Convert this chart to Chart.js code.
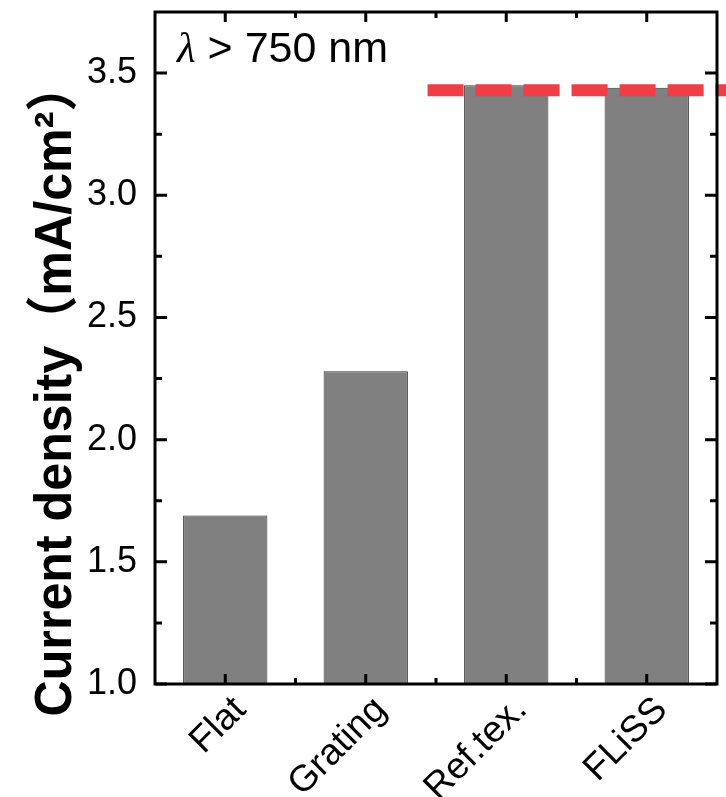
<!DOCTYPE html>
<html>
<head>
<meta charset="utf-8">
<script src="https://cdn.jsdelivr.net/npm/chart.js@4"></script>
<style>
  html, body { margin: 0; padding: 0; background: #fff; }
  #wrap { width: 726px; height: 797px; }
</style>
</head>
<body>
<div id="wrap"><canvas id="myChart"></canvas></div>
<script>
var labels = ['Flat', 'Grating', 'Ref.tex.', 'FLiSS'];
var currentDensity = [1.69, 2.28, 3.45, 3.44];
var yTicks = [1.0, 1.5, 2.0, 2.5, 3.0, 3.5];
var yMinorTicks = [1.25, 1.75, 2.25, 2.75, 3.25];
var refLevel = 3.43;   // dashed reference level
var refFrom = 1.44;    // category position where the dashed line starts

var SANS = "'Liberation Sans', Arial, sans-serif";

// red dashed level, frame, inward ticks, rotated labels and titles
var decorations = {
  id: 'decorations',
  afterDatasetsDraw: function (chart) {
    var ctx = chart.ctx, x = chart.scales.x, y = chart.scales.y;
    ctx.save();
    ctx.strokeStyle = '#EE3F48';
    ctx.lineWidth = 12;
    ctx.setLineDash([36, 12]);
    ctx.beginPath();
    ctx.moveTo(x.getPixelForValue(refFrom), y.getPixelForValue(refLevel));
    ctx.lineTo(chart.width, y.getPixelForValue(refLevel));
    ctx.stroke();
    ctx.restore();
  },
  afterDraw: function (chart) {
    var ctx = chart.ctx, a = chart.chartArea, x = chart.scales.x, y = chart.scales.y;
    ctx.save();
    ctx.strokeStyle = '#000';
    ctx.lineWidth = 3;
    ctx.strokeRect(a.left, a.top, a.right - a.left, a.bottom - a.top);

    ctx.beginPath();
    function yTick(v, len) {
      var py = y.getPixelForValue(v);
      ctx.moveTo(a.left, py); ctx.lineTo(a.left + len, py);
      ctx.moveTo(a.right, py); ctx.lineTo(a.right - len, py);
    }
    function xTick(v, len) {
      var px = x.getPixelForValue(v);
      ctx.moveTo(px, a.bottom); ctx.lineTo(px, a.bottom - len);
      ctx.moveTo(px, a.top); ctx.lineTo(px, a.top + len);
    }
    yTicks.forEach(function (v) { yTick(v, 12); });
    yMinorTicks.forEach(function (v) { yTick(v, 7); });
    labels.forEach(function (l, i) {
      xTick(i, 10);
      if (i > 0) xTick(i - 0.5, 6);
    });
    ctx.stroke();

    // category labels, rotated 45 degrees
    ctx.fillStyle = '#000';
    ctx.font = '37px ' + SANS;
    ctx.textAlign = 'right';
    ctx.textBaseline = 'middle';
    labels.forEach(function (l, i) {
      ctx.save();
      ctx.translate(x.getPixelForValue(i) + 15, a.bottom + 20);
      ctx.rotate(-Math.PI / 4);
      ctx.fillText(l, 0, 0);
      ctx.restore();
    });

    // wavelength note
    ctx.textAlign = 'left';
    ctx.textBaseline = 'alphabetic';
    ctx.font = "italic 43px 'Liberation Serif', serif";
    ctx.fillText('\u03BB', a.left + 22, 62);
    var lw = ctx.measureText('\u03BB').width;
    ctx.font = '43px ' + SANS;
    ctx.fillText(' > 750 nm', a.left + 22 + lw, 62);

    // y axis title, narrow and tall
    var title = 'Current density\uFF08mA/cm\u00B2\uFF09';
    ctx.font = "bold 52px 'Liberation Sans', 'Noto Sans CJK SC', sans-serif";
    var tw = ctx.measureText(title).width;
    ctx.translate(71, 389);
    ctx.rotate(-Math.PI / 2);
    ctx.scale(655 / tw, 1);
    ctx.textAlign = 'center';
    ctx.fillText(title, 0, 0);
    ctx.restore();
  }
};

var data = {
  labels: labels,
  datasets: [{
    label: 'Current density',
    data: currentDensity,
    backgroundColor: '#808080',
    borderColor: '#333333',
    borderWidth: 1,
    barPercentage: 0.6,
    categoryPercentage: 1.0
  }]
};

var config = {
  type: 'bar',
  data: data,
  options: {
    responsive: true,
    maintainAspectRatio: false,
    animation: false,
    layout: { padding: { top: 12, right: 9, left: 0, bottom: 0 } },
    plugins: { legend: { display: false }, tooltip: { enabled: false } },
    scales: {
      x: {
        grid: { display: false },
        border: { display: false },
        ticks: { display: false },
        afterFit: function (s) { s.height = 113; }
      },
      y: {
        min: 1.0,
        max: 3.75,
        grid: { display: false },
        border: { display: false },
        afterBuildTicks: function (s) {
          s.ticks = yTicks.map(function (v) { return { value: v }; });
        },
        ticks: {
          color: '#000',
          padding: 10,
          font: { family: SANS, size: 36 },
          callback: function (v) { return Number(v).toFixed(1); }
        },
        afterFit: function (s) {
          s.width = 155;
          s.paddingTop = 0;
          s.paddingBottom = 0;
        }
      }
    }
  },
  plugins: [decorations]
};

var myChart = new Chart(document.getElementById('myChart'), config);
</script>
</body>
</html>
